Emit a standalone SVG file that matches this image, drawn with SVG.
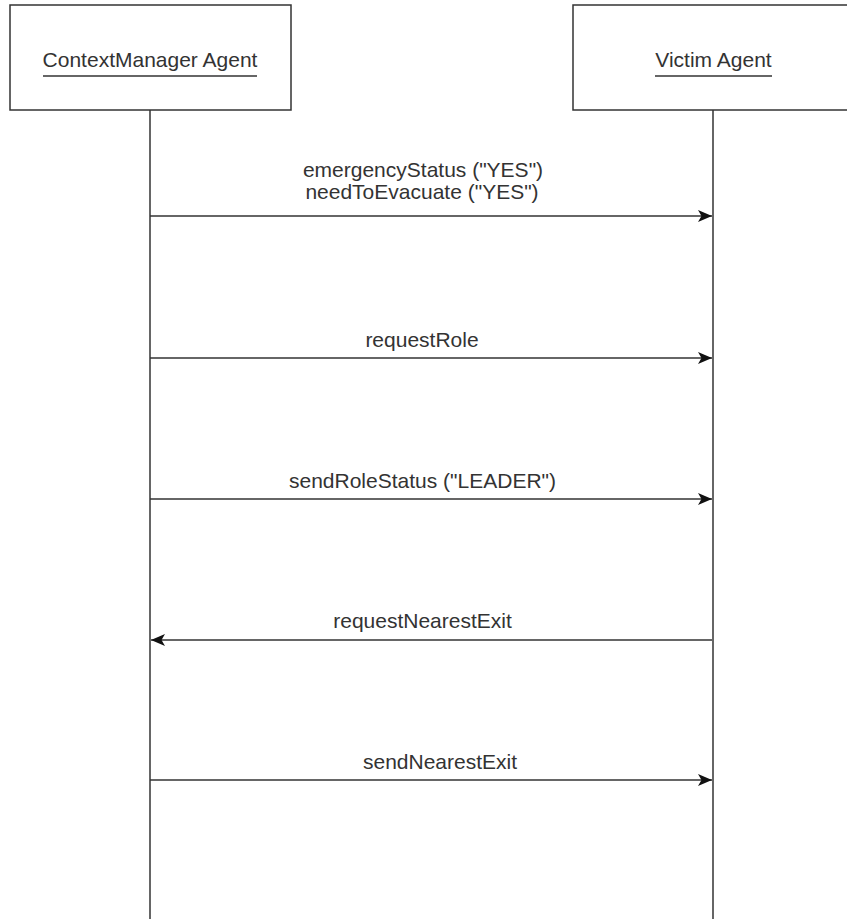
<svg xmlns="http://www.w3.org/2000/svg" width="847" height="919" viewBox="0 0 847 919">
<defs>
<style>
.box{fill:#fff;stroke:#333;stroke-width:1.5}
.life{stroke:#333;stroke-width:1.5;fill:none}
.msg{stroke:#333;stroke-width:1.5;fill:none}
.t{font-family:"Liberation Sans",Arial,sans-serif;font-size:21px;fill:#333;text-anchor:middle}
.ul{stroke:#333;stroke-width:1.5}
</style>
<marker id="ah" markerWidth="16" markerHeight="14" refX="15" refY="7" orient="auto" markerUnits="userSpaceOnUse">
<path d="M1,1 L15,7 L1,13 L4.5,7 Z" fill="#111"/>
</marker>
</defs>
<rect width="847" height="919" fill="#fff"/>
<g id="lifelines">
<line class="life" x1="150" y1="110" x2="150" y2="919"/>
<line class="life" x1="713" y1="110" x2="713" y2="919"/>
</g>
<g id="ctx">
<rect class="box" x="10" y="5" width="281" height="105"/>
<text class="t" x="150" y="67">ContextManager Agent</text>
<line class="ul" x1="43" y1="76" x2="257" y2="76"/>
</g>
<g id="victim">
<rect class="box" x="573" y="5" width="290" height="105"/>
<text class="t" x="713.5" y="67">Victim Agent</text>
<line class="ul" x1="655" y1="76" x2="772" y2="76"/>
</g>
<g id="connectors">
<line class="msg" x1="150" y1="216" x2="712" y2="216" marker-end="url(#ah)"/>
<line class="msg" x1="150" y1="358" x2="712" y2="358" marker-end="url(#ah)"/>
<line class="msg" x1="150" y1="499" x2="712" y2="499" marker-end="url(#ah)"/>
<line class="msg" x1="712" y1="640" x2="151" y2="640" marker-end="url(#ah)"/>
<line class="msg" x1="150" y1="780" x2="712" y2="780" marker-end="url(#ah)"/>
</g>
<g id="labels">
<text class="t" x="423" y="177">emergencyStatus ("YES")</text>
<text class="t" x="422" y="199">needToEvacuate ("YES")</text>
<text class="t" x="422" y="347">requestRole</text>
<text class="t" x="422.5" y="488">sendRoleStatus ("LEADER")</text>
<text class="t" x="422.5" y="628">requestNearestExit</text>
<text class="t" x="440" y="769">sendNearestExit</text>
</g>
</svg>
